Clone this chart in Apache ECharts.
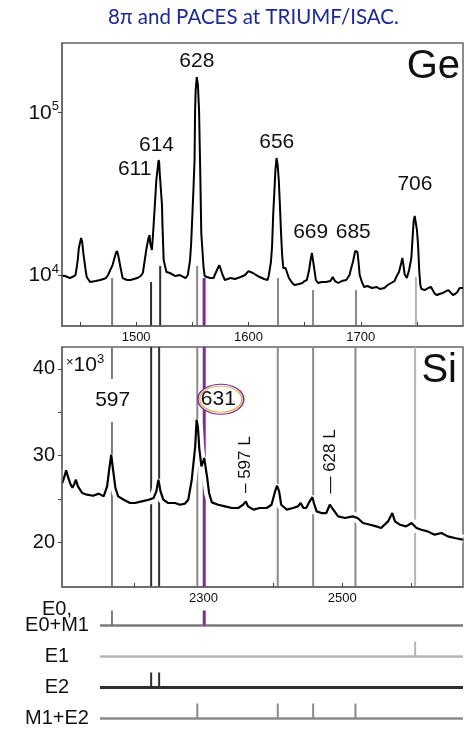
<!DOCTYPE html>
<html>
<head>
<meta charset="utf-8">
<script src="https://cdn.jsdelivr.net/npm/echarts@6/dist/echarts.min.js"></script>
<style>
  html, body { margin: 0; padding: 0; background: #fff; }
  #chart { width: 466px; height: 734px; }
</style>
</head>
<body>
<div id="chart"></div>
<script>
// Ge spectrum (channel, counts)
var geChannel = [
  1434,1436,1439,1441,1443,1446,1447,1448,1449,1451,
  1452,1453,1455,1456,1459,1464,1468,1471,1473,1475,
  1477,1479,1480,1482,1483,1484,1486,1488,1492,1495,
  1498,1501,1504,1506,1509,1511,1512,1512.5,1514,1515,
  1516,1518,1520,1520.5,1521,1523,1523.5,1524.5,1527,1530,
  1535,1539,1544,1546,1548,1549,1551,1552,1552.5,1553,
  1554,1555,1556,1557,1558,1560,1561,1563,1566,1569,
  1570,1572,1574,1575,1577,1579,1584,1588,1593,1597,
  1600,1601,1604,1607,1610,1614,1617,1618,1620,1621,
  1622,1623,1624,1625,1625.5,1626,1627,1628,1629,1630,
  1631,1633,1634,1636,1639,1641,1645,1648,1650,1652,
  1654,1655,1656.5,1657.5,1658.5,1660,1662,1665,1669,1673,
  1675,1677,1680,1683,1687,1690,1691,1693,1695,1696,
  1697,1698,1699,1701,1703,1706,1710,1714,1717,1721,
  1724,1727,1730,1732,1734,1736,1737,1738,1739,1741,
  1742,1743,1745,1746,1747,1748,1749,1750,1751,1752,
  1753,1754,1757,1760,1762.5,1764,1766,1768,1770,1773,
  1776,1778,1779,1782,1784,1786,1788,1791
];
var geCounts = [
  9860,9900,9720,9580,9720,10000,11040,12370,14670,16900,
  15970,13660,10740,9720,9060,9180,9320,9450,9580,10000,
  10740,11520,12200,13660,14060,13280,11200,9580,9320,9320,
  9450,9580,9860,10290,14260,16900,17640,15750,14260,17640,
  22770,38490,51120,49690,42510,27000,19760,12370,10440,10290,
  9860,10000,9580,10000,12370,15750,33400,51120,103900,138000,
  165900,148100,103900,46280,18150,11200,9860,9720,9580,9580,
  10000,10740,11520,11040,10000,9320,9580,9450,9720,10000,
  10580,10740,10290,10000,9720,9450,9320,9860,12030,14880,
  23420,32010,44360,52590,53340,47620,38490,27000,18150,13280,
  11040,11040,10740,9580,8930,8680,8800,8930,9180,9320,
  10740,12030,13660,13280,11040,9320,8930,9060,9060,9180,
  9720,9180,8930,9180,9320,10000,10740,12030,14060,14460,
  13860,12030,10000,9060,8440,8560,8320,8440,8200,8320,
  8680,8930,9180,9860,10440,11860,12730,11520,10140,9580,
  9450,10740,12730,16430,21210,23090,22450,18940,15310,10740,
  8680,8200,8080,8320,8440,8080,7640,7530,7640,7750,
  7970,8080,7860,7530,7640,7860,8320,8320
];

// Si spectrum (channel, counts)
var siChannel = [
  2096,2099,2102,2105,2108,2111,2114,2116,2119,2125,
  2132,2141,2149,2156,2161,2164,2167,2169,2173,2177,
  2185,2194,2201,2211,2221,2228,2232,2235,2238,2242,
  2249,2259,2266,2273,2278,2283,2288,2290,2292,2294,
  2297,2301,2305,2308,2312,2321,2331,2341,2350,2357,
  2361,2364,2372,2381,2391,2398,2403,2406,2409,2412,
  2420,2429,2436,2440,2444,2448,2453,2457,2459,2463,
  2470,2477,2482,2487,2494,2504,2515,2522,2530,2540,
  2549,2556,2566,2572,2576,2583,2592,2600,2607,2614,
  2623,2633,2643,2652,2662,2669,2674
];
var siCounts = [
  26740,27430,28280,27430,26740,26280,26740,27200,26430,25670,
  25470,25350,25590,25270,26430,28360,30090,28740,26240,25270,
  24890,24510,24510,24700,24890,25090,25850,27200,25850,24890,
  24510,24510,24310,24430,24890,27200,31050,34140,33210,30670,
  28740,29710,27590,25670,24580,24310,24120,23930,23930,24310,
  24700,24120,23740,23930,23930,24310,25820,26510,25820,24310,
  23740,23930,24120,24510,23930,23930,24700,25180,24510,23540,
  23350,23350,24310,23740,22960,22780,22960,22780,22200,22000,
  21810,21620,22380,23350,22380,22000,21810,22200,21620,21420,
  21230,20850,21040,20650,20460,20350,20270
];

// transitions (keV), multipolarity, position in each spectrum
var transEnergy = [597, 611, 614, 628, 631, 656, 669, 685, 706];
var transMulti = ['E0', 'E2', 'E2', 'M1+E2', 'E0', 'M1+E2', 'M1+E2', 'M1+E2', 'E1'];
var transGeCh = [1478.6, 1513.3, 1521.4, 1554.3, 1560.5, 1626.3, 1657.5, 1695.7, 1749.1];
var transGeTop = [9580, 9060, 11360, 11360, 9580, 9580, 8080, 8080, 9720];
var transSiCh = [2168, 2224.5, 2236, 2291, 2301, 2407, 2458, 2519, 2605];
var highlightEnergy = 631;

var multiRows = ['E0', 'E1', 'E2', 'M1+E2'];
var multiRowLabels = ['E0,\nE0+M1\n ', 'E1', 'E2', 'M1+E2'];

// peak labels
var geLabelText = ['611', '614', '628', '656', '669', '685', '706'];
var geLabelCh = [1498.7, 1518.1, 1554, 1625.2, 1655.4, 1693.3, 1748.2];
var geLabelCounts = [44990, 63240, 208200, 65520, 18280, 18280, 36260];

// axis ticks / labels
var geXTicks = [1450, 1500, 1550, 1600, 1650, 1700, 1750];
var geXLabels = [1500, 1600, 1700];
var geYTicks = [10000, 100000];
var siXTicks = [2200, 2300, 2400, 2500, 2600];
var siXLabels = [2300, 2500];
var siYTicks = [20000, 25000, 30000, 35000, 40000];
var siYLabels = [20000, 30000, 40000];

var FONT = 'Liberation Sans';
var purple = '#7b2c96';
var multiStyle = {
  'E0': { color: '#7a7a7a', width: 2, row: 2.5 },
  'E1': { color: '#b4b4b4', width: 2, row: 2.5 },
  'E2': { color: '#2e2e2e', width: 2, row: 3 },
  'M1+E2': { color: '#8a8a8a', width: 2, row: 2.5 }
};

function markerStyle(i) {
  if (transEnergy[i] === highlightEnergy) return { stroke: purple, lineWidth: 3 };
  var s = multiStyle[transMulti[i]];
  return { stroke: s.color, lineWidth: s.width };
}

function zip(a, b) {
  return a.map(function (v, i) { return [v, b[i]]; });
}

var frame = { show: true, lineStyle: { color: '#666', width: 1.5 } };
var hidden = { color: 'rgba(0,0,0,0)', opacity: 1 };

var chart = echarts.init(document.getElementById('chart'));
chart.setOption({
  animation: false,
  backgroundColor: '#fff',
  title: [
    { text: '8π and PACES at TRIUMF/ISAC.', left: 108, top: 7, padding: 0,
      textStyle: { color: '#1b2a94', fontFamily: 'Lato', fontSize: 20.5, fontWeight: 'normal' } },
    { text: 'Ge', right: 6, top: 47, padding: 0,
      textStyle: { color: '#111', fontFamily: FONT, fontSize: 40, fontWeight: 'normal' } },
    { text: 'Si', right: 9, top: 351, padding: 0,
      textStyle: { color: '#111', fontFamily: FONT, fontSize: 40, fontWeight: 'normal' } }
  ],
  grid: [
    { left: 62, width: 401, top: 43, height: 283, show: true, borderColor: '#666', borderWidth: 1.5, outerBoundsMode: 'none' },
    { left: 62, width: 401, top: 347, height: 240, show: true, borderColor: '#666', borderWidth: 1.5, outerBoundsMode: 'none' },
    { left: 62, width: 401, top: 610, height: 124, outerBoundsMode: 'none' }
  ],
  xAxis: [
    { gridIndex: 0, type: 'value', min: 1434, max: 1791, z: 5,
      axisLine: frame,
      axisTick: { show: true, inside: true, length: 4, customValues: geXTicks, lineStyle: { color: '#444' } },
      axisLabel: { customValues: geXLabels, margin: 5, fontSize: 13, fontFamily: FONT, color: '#111',
        formatter: function (v) { return String(v); } },
      splitLine: { show: false } },
    { gridIndex: 1, type: 'value', min: 2096, max: 2674, z: 5,
      axisLine: frame,
      axisTick: { show: true, inside: true, length: 4, customValues: siXTicks, lineStyle: { color: '#444' } },
      axisLabel: { customValues: siXLabels, margin: 5, fontSize: 13, fontFamily: FONT, color: '#111',
        formatter: function (v) { return String(v); } },
      splitLine: { show: false } },
    { gridIndex: 2, type: 'value', min: 2096, max: 2674, show: false }
  ],
  yAxis: [
    { gridIndex: 0, type: 'log', min: 4852, max: 268800, z: 5,
      axisLine: frame,
      axisTick: { show: true, inside: false, length: 4, customValues: geYTicks, lineStyle: { color: '#444' } },
      axisLabel: {
        customValues: geYTicks, margin: 3, color: '#111',
        formatter: function (v) {
          return '{b|10}{s|' + Math.round(Math.log(v) / Math.LN10) + '}';
        },
        rich: {
          b: { fontSize: 21, fontFamily: FONT, color: '#111' },
          s: { fontSize: 13, fontFamily: FONT, color: '#111', padding: [0, 0, 12, 0] }
        }
      },
      splitLine: { show: false } },
    { gridIndex: 1, type: 'value', min: 14800, max: 42540, z: 5,
      name: '{x|×}{b|10}{s|3}', nameLocation: 'end', nameGap: -6,
      nameTextStyle: {
        align: 'left', verticalAlign: 'top', padding: [0, 0, 0, 4],
        rich: {
          x: { fontSize: 13, fontFamily: FONT, color: '#111', padding: [0, 0, 6, 0] },
          b: { fontSize: 21, fontFamily: FONT, color: '#111' },
          s: { fontSize: 13, fontFamily: FONT, color: '#111', padding: [0, 0, 12, 0] }
        }
      },
      axisLine: frame,
      axisTick: { show: true, inside: false, length: 4, customValues: siYTicks, lineStyle: { color: '#444' } },
      axisLabel: { customValues: siYLabels, margin: 7, fontSize: 20, fontFamily: FONT, color: '#111',
        formatter: function (v) { return String(v / 1000); } },
      splitLine: { show: false } },
    { gridIndex: 2, type: 'category', data: multiRows, inverse: true,
      axisLine: { show: false }, axisTick: { show: false },
      axisLabel: { interval: 0, hideOverlap: false, margin: 5, align: 'center',
        fontSize: 20, lineHeight: 16, fontFamily: FONT, color: '#111',
        formatter: function (v) { return multiRowLabels[multiRows.indexOf(v)]; } },
      splitLine: { show: false } }
  ],
  series: [
    // Ge: transition markers below the spectrum
    { type: 'custom', xAxisIndex: 0, yAxisIndex: 0, z: 1, silent: true,
      data: transGeCh.map(function (c, i) { return [c, transGeTop[i], i]; }),
      renderItem: function (params, api) {
        var p = api.coord([api.value(0), api.value(1)]);
        var cs = params.coordSys;
        return { type: 'line', shape: { x1: p[0], y1: p[1], x2: p[0], y2: cs.y + cs.height },
          style: markerStyle(api.value(2)) };
      } },
    { type: 'line', name: 'Ge', xAxisIndex: 0, yAxisIndex: 0, z: 3, silent: true,
      data: zip(geChannel, geCounts), showSymbol: false,
      lineStyle: { color: '#000', width: 2 } },
    { type: 'scatter', xAxisIndex: 0, yAxisIndex: 0, z: 5, silent: true,
      data: geLabelCh.map(function (c, i) { return [c, geLabelCounts[i], geLabelText[i]]; }),
      symbolSize: 1, itemStyle: hidden,
      label: { show: true, position: 'inside', fontSize: 21, fontFamily: FONT, color: '#111',
        formatter: function (p) { return p.data[2]; } } },

    // Si: transition markers through the panel
    { type: 'custom', xAxisIndex: 1, yAxisIndex: 1, z: 1, silent: true,
      data: transSiCh.map(function (c, i) { return [c, 20000, i]; }),
      renderItem: function (params, api) {
        var p = api.coord([api.value(0), api.value(1)]);
        var cs = params.coordSys;
        return { type: 'line', shape: { x1: p[0], y1: cs.y, x2: p[0], y2: cs.y + cs.height },
          style: markerStyle(api.value(2)) };
      } },
    { type: 'line', xAxisIndex: 1, yAxisIndex: 1, z: 2, silent: true,
      data: zip(siChannel, siCounts), showSymbol: false,
      lineStyle: { color: '#fff', width: 10 } },
    { type: 'line', name: 'Si', xAxisIndex: 1, yAxisIndex: 1, z: 3, silent: true,
      data: zip(siChannel, siCounts), showSymbol: false,
      lineStyle: { color: '#000', width: 2.2 } },
    { type: 'scatter', xAxisIndex: 1, yAxisIndex: 1, z: 5, silent: true,
      data: [[2169, 36370, '597']],
      symbolSize: 1, itemStyle: hidden,
      label: { show: true, position: 'inside', fontSize: 21, fontFamily: FONT, color: '#111',
        backgroundColor: '#fff', padding: [13, 2, 9, 2],
        formatter: function (p) { return p.data[2]; } } },
    { type: 'scatter', xAxisIndex: 1, yAxisIndex: 1, z: 4, silent: true,
      data: [[2324.9, 36510]], symbol: 'circle', symbolSize: [46, 30],
      itemStyle: { color: '#fff', opacity: 1, borderColor: purple, borderWidth: 1.3 } },
    { type: 'scatter', xAxisIndex: 1, yAxisIndex: 1, z: 5, silent: true,
      data: [[2324.9, 36510]], symbol: 'circle', symbolSize: [42, 26],
      itemStyle: { color: '#fff', opacity: 1, borderColor: '#e0a030', borderWidth: 1 } },
    { type: 'scatter', xAxisIndex: 1, yAxisIndex: 1, z: 6, silent: true,
      data: [[2321.3, 36450, '631']],
      symbolSize: 1, itemStyle: hidden,
      label: { show: true, position: 'inside', fontSize: 21, fontFamily: FONT, color: '#111',
        formatter: function (p) { return p.data[2]; } } },
    { type: 'scatter', xAxisIndex: 1, yAxisIndex: 1, z: 6, silent: true,
      data: [[2360.4, 28940, '\u2013 597 L'], [2482.7, 29310, '\u2014 628 L']],
      symbolSize: 1, itemStyle: hidden,
      label: { show: true, position: 'inside', rotate: 90, fontSize: 17, fontFamily: FONT, color: '#111',
        formatter: function (p) { return p.data[2]; } } },

    // multipolarity rows
    { type: 'custom', xAxisIndex: 2, yAxisIndex: 2, z: 1, silent: true,
      data: multiRows.map(function (r, k) { return [2096, k]; }),
      renderItem: function (params, api) {
        var p = api.coord([api.value(0), api.value(1)]);
        var cs = params.coordSys;
        var s = multiStyle[multiRows[api.value(1)]];
        return { type: 'line', shape: { x1: cs.x + 38, y1: p[1], x2: cs.x + cs.width, y2: p[1] },
          style: { stroke: s.color, lineWidth: s.row } };
      } },
    { type: 'custom', xAxisIndex: 2, yAxisIndex: 2, z: 2, silent: true,
      data: transSiCh.map(function (c, i) { return [c, multiRows.indexOf(transMulti[i]), i]; }),
      renderItem: function (params, api) {
        var p = api.coord([api.value(0), api.value(1)]);
        return { type: 'line', shape: { x1: p[0], y1: p[1] - 15, x2: p[0], y2: p[1] },
          style: markerStyle(api.value(2)) };
      } }
  ]
});
</script>
</body>
</html>
